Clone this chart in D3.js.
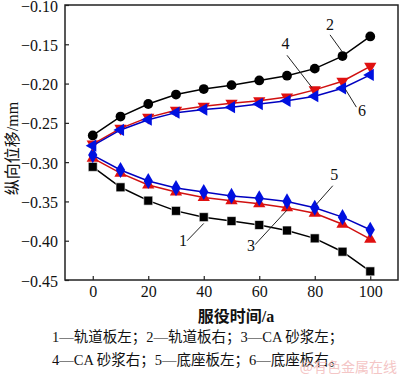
<!DOCTYPE html>
<html>
<head>
<meta charset="utf-8">
<script src="https://cdn.jsdelivr.net/npm/d3@7"></script>
<style>
  body { margin: 0; background: #fff; }
  text { font-family: "Liberation Serif", "Times New Roman", "Noto Sans CJK SC", serif; }
</style>
</head>
<body>
<div id="chart"></div>
<script>
const years = [0, 10, 20, 30, 40, 50, 60, 70, 80, 90, 100];
// 1 轨道板左
const trackLeft = [-0.306, -0.332, -0.349, -0.362, -0.370, -0.375, -0.380, -0.387, -0.397, -0.414, -0.439];
// 2 轨道板右
const trackRight = [-0.266, -0.242, -0.226, -0.214, -0.207, -0.202, -0.196, -0.190, -0.181, -0.165, -0.140];
// 3 CA砂浆左
const caLeft = [-0.295, -0.314, -0.329, -0.338, -0.345, -0.349, -0.353, -0.358, -0.365, -0.379, -0.398];
// 4 CA砂浆右
const caRight = [-0.277, -0.257, -0.243, -0.234, -0.229, -0.225, -0.222, -0.217, -0.208, -0.197, -0.178];
// 5 底座板左
const baseLeft = [-0.291, -0.310, -0.324, -0.333, -0.338, -0.343, -0.346, -0.350, -0.358, -0.370, -0.386];
// 6 底座板右
const baseRight = [-0.279, -0.259, -0.246, -0.237, -0.233, -0.230, -0.226, -0.222, -0.216, -0.206, -0.189];

const xTicks = [0, 20, 40, 60, 80, 100];
const yTicks = [-0.10, -0.15, -0.20, -0.25, -0.30, -0.35, -0.40, -0.45];
const legendLines = [
  "1—轨道板左；2—轨道板右；3—CA 砂浆左；",
  "4—CA 砂浆右；5—底座板左；6—底座板右。"
];

const series = [
  { values: trackLeft, color: "#000", fill: "#000", shape: "square" },
  { values: trackRight, color: "#000", fill: "#000", shape: "circle" },
  { values: caLeft, color: "#d01010", fill: "#e01010", shape: "triUp" },
  { values: baseLeft, color: "#0000c0", fill: "#0010e0", shape: "diamond" },
  { values: caRight, color: "#d01010", fill: "#e01010", shape: "triDown" },
  { values: baseRight, color: "#0000c0", fill: "#0010e0", shape: "triLeft" }
];

// leader labels, in data units
const leaders = [
  { label: "2", tx: 85.5, ty: -0.132, x1: 85.5, y1: -0.138, x2: 90, y2: -0.160 },
  { label: "4", tx: 69.5, ty: -0.156, x1: 70, y1: -0.164, x2: 79, y2: -0.205 },
  { label: "6", tx: 97, ty: -0.241, x1: 91, y1: -0.207, x2: 95, y2: -0.230 },
  { label: "1", tx: 32.5, ty: -0.407, x1: 34, y1: -0.400, x2: 40, y2: -0.378 },
  { label: "3", tx: 57, ty: -0.413, x1: 58.5, y1: -0.405, x2: 70, y2: -0.361 },
  { label: "5", tx: 87, ty: -0.323, x1: 86.5, y1: -0.330, x2: 80.5, y2: -0.354 }
];

const W = 400, H = 375;
const margin = { top: 5, right: 2, bottom: 95, left: 65 };
const innerW = W - margin.left - margin.right;
const innerH = H - margin.top - margin.bottom;

const svg = d3.select("#chart").append("svg")
  .attr("width", W)
  .attr("height", H);

const g = svg.append("g")
  .attr("transform", `translate(${margin.left},${margin.top})`);

const x = d3.scaleLinear().domain([-10, 110]).range([0, innerW]);
const y = d3.scaleLinear().domain([-0.45, -0.10]).range([innerH, 0]);

// frame
g.append("rect")
  .attr("width", innerW)
  .attr("height", innerH)
  .attr("fill", "none")
  .attr("stroke", "#222")
  .attr("stroke-width", 1.5);

const fmt = d => (d < 0 ? "\u2212" : "") + Math.abs(d).toFixed(2);

const yAxis = g.append("g")
  .call(d3.axisLeft(y).tickValues(yTicks).tickSize(-4).tickPadding(7).tickFormat(fmt));
yAxis.select(".domain").remove();
yAxis.selectAll("line").attr("stroke", "#222").attr("stroke-width", 1.2);
yAxis.selectAll("text").attr("font-size", 16).attr("fill", "#111").attr("dy", "0.38em")
  .style("font-family", "'Liberation Serif', serif");

const xAxis = g.append("g")
  .attr("transform", `translate(0,${innerH})`)
  .call(d3.axisBottom(x).tickValues(xTicks).tickSize(-4).tickPadding(6));
xAxis.select(".domain").remove();
xAxis.selectAll("line").attr("stroke", "#222").attr("stroke-width", 1.2);
xAxis.selectAll("text").attr("font-size", 16).attr("fill", "#111")
  .style("font-family", "'Liberation Serif', serif");

// lines + markers
const line = d3.line().x((d, i) => x(years[i])).y(d => y(d));

const sym = {
  square: d3.symbol().type(d3.symbolSquare).size(80),
  circle: d3.symbol().type(d3.symbolCircle).size(75),
  diamond: d3.symbol().type(d3.symbolDiamond).size(75),
  tri: d3.symbol().type(d3.symbolTriangle).size(65)
};
const rot = { triUp: 0, triDown: 180, triLeft: -90 };

series.forEach(s => {
  g.append("path")
    .datum(s.values)
    .attr("d", line)
    .attr("fill", "none")
    .attr("stroke", s.color)
    .attr("stroke-width", 1.5);

  g.selectAll(null)
    .data(s.values)
    .enter()
    .append("path")
    .attr("d", s.shape in sym ? sym[s.shape]() : sym.tri())
    .attr("transform", (d, i) => `translate(${x(years[i])},${y(d)}) rotate(${rot[s.shape] || 0})`)
    .attr("fill", s.fill)
    .attr("stroke", s.shape === "square" ? "#fff" : "none")
    .attr("stroke-width", 0.6);
});

// leader annotations
leaders.forEach(l => {
  g.append("line")
    .attr("x1", x(l.x1)).attr("y1", y(l.y1))
    .attr("x2", x(l.x2)).attr("y2", y(l.y2))
    .attr("stroke", "#222")
    .attr("stroke-width", 1);
  g.append("text")
    .attr("x", x(l.tx))
    .attr("y", y(l.ty))
    .attr("text-anchor", "middle")
    .attr("font-size", 16)
    .attr("fill", "#111")
    .text(l.label);
});

// axis titles
svg.append("text")
  .attr("transform", `translate(18,${margin.top + innerH / 2 + 6}) rotate(-90)`)
  .attr("text-anchor", "middle")
  .attr("font-size", 16)
  .attr("fill", "#111")
  .text("纵向位移/mm");

svg.append("text")
  .attr("x", 236)
  .attr("y", 322)
  .attr("text-anchor", "middle")
  .attr("font-size", 16)
  .attr("font-weight", "bold")
  .attr("fill", "#111")
  .text("服役时间/a");

// legend text
legendLines.forEach((t, i) => {
  svg.append("text")
    .attr("x", 52)
    .attr("y", 342 + i * 23)
    .attr("font-size", 14.5)
    .attr("fill", "#111")
    .text(t);
});

// watermark
svg.append("text")
  .attr("x", 397)
  .attr("y", 372)
  .attr("text-anchor", "end")
  .attr("font-size", 14)
  .attr("fill", "#f2b8b8")
  .attr("opacity", 0.8)
  .style("font-family", "'Noto Sans CJK SC', sans-serif")
  .text("@有色金属在线");
</script>
</body>
</html>
